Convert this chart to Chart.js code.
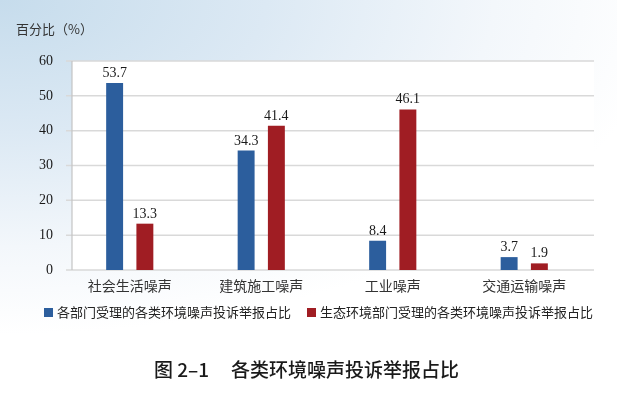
<!DOCTYPE html>
<html>
<head>
<meta charset="utf-8">
<script src="https://cdn.jsdelivr.net/npm/chart.js@4"></script>
<style>
  html, body { margin: 0; padding: 0; }
  body {
    width: 617px; height: 403px; overflow: hidden;
    background: radial-gradient(ellipse 760px 380px at 0 0, #c6dcec 0%, #dce9f4 35%, #f3f7fb 65%, #ffffff 88%);
  }
  canvas { display: block; }
</style>
</head>
<body>
<canvas id="noise-chart" width="617" height="403"></canvas>
<script>
// data
const categories = ["社会生活噪声", "建筑施工噪声", "工业噪声", "交通运输噪声"];
const deptShare  = [53.7, 34.3, 8.4, 3.7];   // 各部门受理
const ecoShare   = [13.3, 41.4, 46.1, 1.9];  // 生态环境部门受理
const seriesNames = [
    "各部门受理的各类环境噪声投诉举报占比",
    "生态环境部门受理的各类环境噪声投诉举报占比",
];
const yMin = 0, yMax = 60, yStep = 10;
const yTitle = "百分比（%）";
const captionNo = "图 2–1";
const captionText = "各类环境噪声投诉举报占比";

const BLUE = "#2c5e9d";
const RED  = "#a01d23";
const CJK  = "'Noto Sans CJK SC', 'Noto Sans', sans-serif";
const SERIF = "'Liberation Serif', 'DejaVu Serif', serif";

// white plot panel, grid lines and the left axis line
const framePlugin = {
    id: "frame",
    beforeDatasetsDraw(chart) {
        const ctx = chart.ctx;
        const y = chart.scales.y;
        const top = y.getPixelForValue(yMax);
        const bottom = y.getPixelForValue(yMin);
        ctx.save();
        ctx.fillStyle = "#ffffff";
        ctx.fillRect(72, top, 594 - 72, bottom - top);
        ctx.strokeStyle = "#d9d9d9";
        ctx.lineWidth = 1.5;
        y.ticks.forEach(t => {
            const py = y.getPixelForValue(t.value);
            ctx.beginPath();
            ctx.moveTo(66, py);
            ctx.lineTo(594, py);
            ctx.stroke();
        });
        ctx.strokeStyle = "#c4c4c4";
        ctx.lineWidth = 1.2;
        ctx.beginPath();
        ctx.moveTo(72, top);
        ctx.lineTo(72, bottom);
        ctx.stroke();
        ctx.restore();
    },
};

// value labels over bars, legend, axis title and caption
const textPlugin = {
    id: "texts",
    afterDraw(chart) {
        const ctx = chart.ctx;
        ctx.save();
        ctx.fillStyle = "#1a1a1a";
        ctx.font = "14px " + SERIF;
        ctx.textAlign = "center";
        ctx.textBaseline = "alphabetic";
        chart.data.datasets.forEach((ds, i) => {
            chart.getDatasetMeta(i).data.forEach((bar, j) => {
                ctx.fillText(ds.data[j].toFixed(1), bar.x, bar.y - 6);
            });
        });

        // y axis title
        ctx.textAlign = "left";
        ctx.textBaseline = "middle";
        ctx.fillStyle = "#333333";
        ctx.font = "13px " + CJK;
        ctx.fillText(yTitle, 16, 29);

        // legend
        const items = [
            { x: 44, color: BLUE, text: seriesNames[0] },
            { x: 307, color: RED, text: seriesNames[1] },
        ];
        ctx.font = "13px " + CJK;
        items.forEach(it => {
            ctx.fillStyle = it.color;
            ctx.fillRect(it.x, 308, 9, 9);
            ctx.fillStyle = "#222222";
            ctx.fillText(it.text, it.x + 13, 312.5);
        });

        // caption
        ctx.fillStyle = "#1a1a1a";
        ctx.font = "500 19px " + CJK;
        ctx.fillText(captionNo, 154, 370);
        ctx.fillText(captionText, 231, 370);
        ctx.restore();
    },
};

new Chart(document.getElementById("noise-chart"), {
    type: "bar",
    data: {
        labels: categories,
        datasets: [
            {
                label: seriesNames[0],
                data: deptShare,
                backgroundColor: BLUE,
                categoryPercentage: 0.46,
                barPercentage: 0.56,
            },
            {
                label: seriesNames[1],
                data: ecoShare,
                backgroundColor: RED,
                categoryPercentage: 0.46,
                barPercentage: 0.56,
            },
        ],
    },
    options: {
        responsive: false,
        animation: false,
        layout: { padding: { left: 0, right: 27, top: 61, bottom: 0 } },
        plugins: {
            legend: { display: false },
            title: { display: false },
            tooltip: { enabled: false },
        },
        scales: {
            x: {
                grid: { display: false },
                border: { display: false },
                ticks: {
                    color: "#333333",
                    font: { family: CJK, size: 14, lineHeight: 1 },
                    padding: 1,
                    maxRotation: 0,
                },
                afterFit: s => { s.height = 133; },
            },
            y: {
                min: yMin,
                max: yMax,
                grid: { display: false },
                border: { display: false },
                ticks: {
                    stepSize: yStep,
                    color: "#1a1a1a",
                    font: { family: SERIF, size: 14 },
                    padding: 3,
                },
                afterFit: s => { s.width = 64; },
            },
        },
    },
    plugins: [framePlugin, textPlugin],
});
</script>
</body>
</html>
